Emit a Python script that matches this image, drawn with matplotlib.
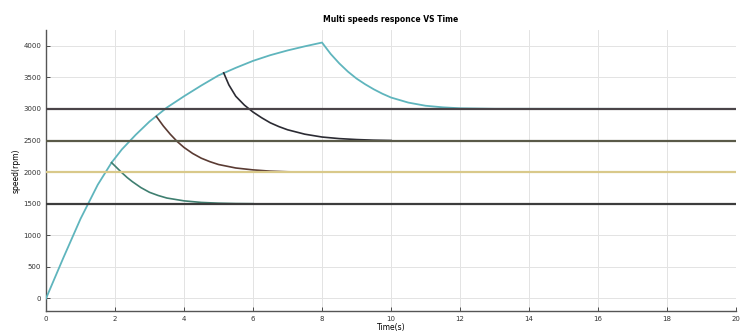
import matplotlib
matplotlib.use("Agg")
import matplotlib.pyplot as plt

# Reference speed levels (rpm)
ref_levels = [1500, 2000, 2500, 3000]
ref_colors = ["#3c3c3c", "#d9c98a", "#5a5a48", "#4a4448"]

# Main response (3000 rpm command)
t_main = [0, 0.5, 1.0, 1.5, 1.9, 2.2, 2.6, 3.0, 3.5, 4.0, 4.5, 5.0, 5.5, 6.0, 6.5, 7.0, 7.5, 8.0,
          8.25, 8.5, 8.75, 9.0, 9.25, 9.5, 9.75, 10.0, 10.5, 11.0, 11.5, 12.0, 13.0, 20.0]
v_main = [0, 640, 1260, 1800, 2150, 2360, 2590, 2800, 3020, 3200, 3370, 3530, 3650, 3760, 3850, 3925, 3990, 4050,
          3870, 3720, 3590, 3480, 3390, 3310, 3240, 3180, 3100, 3050, 3025, 3010, 3002, 3000]

# 1500 rpm branch
t_1500 = [1.9, 2.05, 2.2, 2.35, 2.5, 2.75, 3.0, 3.25, 3.5, 4.0, 4.5, 5.0, 5.5, 6.0]
v_1500 = [2150, 2070, 1990, 1915, 1850, 1755, 1680, 1630, 1590, 1545, 1520, 1508, 1502, 1500]

# 2000 rpm branch
t_2000 = [3.2, 3.4, 3.6, 3.8, 4.0, 4.25, 4.5, 4.75, 5.0, 5.5, 6.0, 6.5, 7.0, 7.5]
v_2000 = [2880, 2730, 2600, 2485, 2390, 2295, 2220, 2165, 2120, 2065, 2035, 2015, 2005, 2000]

# 2500 rpm branch
t_2500 = [5.15, 5.3, 5.5, 5.75, 6.0, 6.25, 6.5, 6.75, 7.0, 7.5, 8.0, 8.5, 9.0, 9.5, 10.0]
v_2500 = [3570, 3380, 3200, 3060, 2950, 2860, 2780, 2720, 2670, 2600, 2555, 2530, 2515, 2505, 2500]

x_ticks = list(range(0, 21, 2))
y_ticks = list(range(0, 4001, 500))

fig = plt.figure(figsize=(7.42, 3.36), dpi=100)
ax = fig.add_axes([0.062, 0.074, 0.930, 0.837])

ax.plot(t_main, v_main, color="#5fb5bd", lw=1.3, zorder=3)
ax.plot(t_1500, v_1500, color="#3f7f70", lw=1.2, zorder=3)
ax.plot(t_2000, v_2000, color="#5a3b33", lw=1.2, zorder=3)
ax.plot(t_2500, v_2500, color="#2b2b33", lw=1.2, zorder=3)

for lvl, c in zip(ref_levels, ref_colors):
    ax.plot([0, 20], [lvl, lvl], color=c, lw=1.6, zorder=4)

ax.set_xlim(0, 20)
ax.set_ylim(-200, 4250)
ax.set_xticks(x_ticks)
ax.set_yticks(y_ticks)
ax.tick_params(direction="in", labelsize=5, length=3, width=0.6, colors="#333333")
ax.grid(True, color="#e3e3e3", lw=0.7)
ax.set_axisbelow(True)
for s in ["top", "right"]:
    ax.spines[s].set_visible(False)
for s in ["left", "bottom"]:
    ax.spines[s].set_color("#555555")
    ax.spines[s].set_linewidth(1.0)

ax.set_title("Multi speeds responce VS Time", fontsize=5.5, fontweight="bold", pad=6)
ax.set_xlabel("Time(s)", fontsize=5.5, labelpad=1)
ax.set_ylabel("speed(rpm)", fontsize=5.5, labelpad=2)

fig.savefig("out.png", dpi=100)
